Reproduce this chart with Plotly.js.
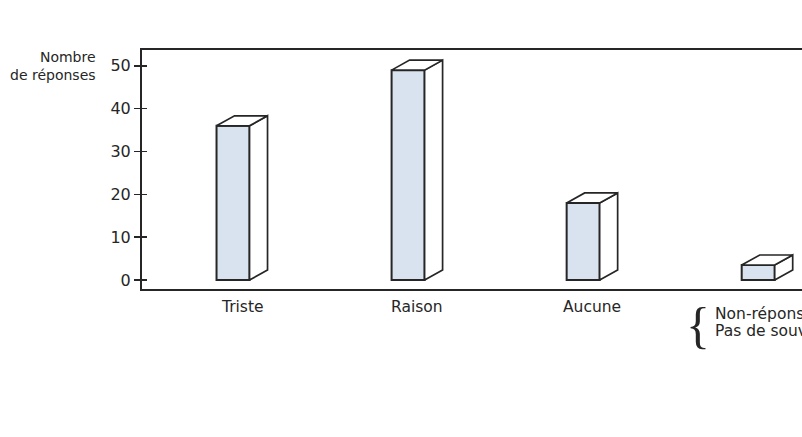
<!DOCTYPE html>
<html><head><meta charset="utf-8">
<script src="https://cdn.plot.ly/plotly-3.0.1.min.js"></script>
<style>
html,body{margin:0;padding:0;overflow:hidden;background:#fff;width:802px;height:437px}
#chart{width:900px;height:437px}
</style>
</head><body><div id="chart"></div>
<script>
const categories = ["Triste", "Raison", "Aucune", "Non-réponse"];
const catLabels = ["Triste", "Raison", "Aucune", "Non-réponse<br>Pas de souvenir"];
const values = [36, 49, 18, 3.5];
const yTicks = [0, 10, 20, 30, 40, 50];
const yTitle = "Nombre<br>de réponses";

const W = 900, H = 437, ml = 142, mr = 0, mt = 50, mb = 148;
const xr = [-0.52, 3.81], yr = [-2.1, 53.7];
const pw = W - ml - mr, ph = H - mt - mb;
const pxX = (xr[1] - xr[0]) / pw, pxY = (yr[1] - yr[0]) / ph;
const barW = 33 * pxX, dx = 18 * pxX, dy = 10 * pxY;
const ink = "#262626";
const font = "DejaVu Sans, Verdana, sans-serif";

const xs = categories.map((_, i) => i);
const traces = [];
xs.forEach((x, i) => {
  const v = values[i], L = x - barW / 2, R = x + barW / 2;
  traces.push({type: "scatter", mode: "lines", fill: "toself", fillcolor: "#fff",
    x: [R, R + dx, R + dx, R, R], y: [0, dy, v + dy, v, 0],
    line: {color: ink, width: 1.7}, hoverinfo: "skip", showlegend: false});
  traces.push({type: "scatter", mode: "lines", fill: "toself", fillcolor: "#fff",
    x: [L, L + dx, R + dx, R, L], y: [v, v + dy, v + dy, v, v],
    line: {color: ink, width: 1.7}, hoverinfo: "skip", showlegend: false});
});
traces.push({type: "bar", x: xs, y: values, width: barW,
  marker: {color: "#d9e3ef", line: {color: ink, width: 2}},
  showlegend: false, hoverinfo: "skip"});
traces.push({type: "scatter", x: [0], y: [0], yaxis: "y2", mode: "markers",
  marker: {opacity: 0}, showlegend: false, hoverinfo: "skip"});

const annotations = [];
xs.forEach((x, i) => {
  const lines = catLabels[i].split("<br>");
  if (lines.length === 1) {
    annotations.push({x: x, xref: "x", y: 0, yref: "paper", yanchor: "top", xanchor: "center",
      yshift: -7, xshift: 9, text: lines[0], showarrow: false,
      font: {family: font, size: 15.5, color: ink}});
  } else {
    lines.forEach((t, k) => {
      annotations.push({x: x, xref: "x", y: 0, yref: "paper", yanchor: "top", xanchor: "left",
        yshift: -14 - 17 * k, xshift: -45, align: "left", text: t, showarrow: false,
        font: {family: font, size: 15.5, color: ink}});
    });
    annotations.push({x: x, xref: "x", y: 0, yref: "paper", yanchor: "top", xanchor: "right",
      yshift: -6, xshift: -46, text: "{", showarrow: false,
      font: {family: "Liberation Serif, serif", size: 50, color: ink}});
  }
});
annotations.push({x: 0, xref: "paper", y: 1, yref: "paper", xanchor: "right", yanchor: "top",
  xshift: -44, yshift: 3, align: "right", text: yTitle, showarrow: false,
  font: {family: font, size: 14, color: ink}});

const layout = {
  width: W, height: H,
  margin: {l: ml, r: mr, t: mt, b: mb, pad: 0},
  paper_bgcolor: "#fff", plot_bgcolor: "#fff",
  showlegend: false,
  xaxis: {range: xr, showgrid: false, zeroline: false, showticklabels: false, ticks: "",
    showline: true, mirror: true, linecolor: ink, linewidth: 2, fixedrange: true},
  yaxis: {range: yr, showgrid: false, zeroline: false, tickvals: yTicks, ticktext: yTicks.map(String),
    ticks: "outside", ticklen: 6, tickwidth: 1.6, tickcolor: ink,
    tickfont: {family: font, size: 16, color: ink},
    showline: true, mirror: true, linecolor: ink, linewidth: 2, fixedrange: true},
  yaxis2: {range: yr, overlaying: "y", side: "left", anchor: "x", showgrid: false, zeroline: false,
    tickvals: yTicks, showticklabels: false, ticks: "inside", ticklen: 5, tickwidth: 1.6, tickcolor: ink,
    showline: false, fixedrange: true},
  annotations: annotations,
  font: {family: font, color: ink}
};
Plotly.newPlot("chart", traces, layout, {displayModeBar: false, staticPlot: true});
</script>
</body></html>
